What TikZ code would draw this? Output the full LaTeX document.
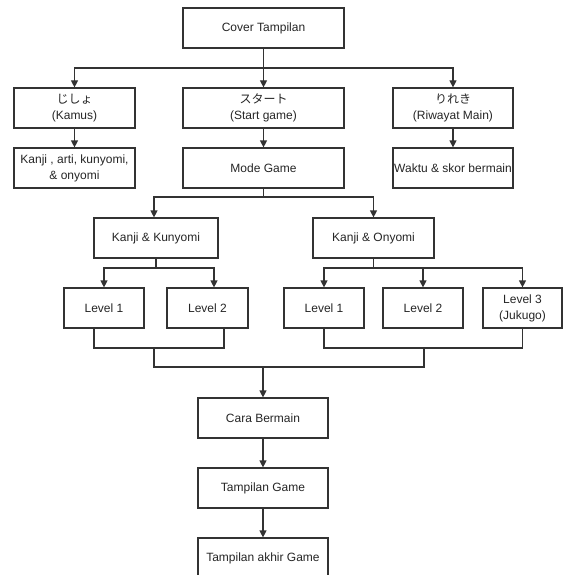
\documentclass[tikz,border=0pt]{standalone}
\usepackage{fontspec}
\setmainfont{Liberation Sans}
\newfontfamily\jpfont{Noto Sans CJK JP}
\usetikzlibrary{arrows.meta}
\begin{document}
\begin{tikzpicture}[x=1pt,y=-1pt,
  box/.style={draw=black!80, line width=1.2pt, fill=white, inner sep=0pt, align=center,
    minimum height=40pt, text=black!85, font=\fontsize{12}{16}\selectfont},
  conn/.style={draw=black!80, line width=1.2pt},
  arr/.style={conn, -{Triangle[length=7pt,width=7pt]}}]
\useasboundingbox (0,0) rectangle (563,575);
\fill[white] (0,0) rectangle (563,575);

% nodes
\node[box, minimum width=161pt] (cover) at (263.5,28) {Cover Tampilan};
\node[box, minimum width=121pt] (jisho) at (74.5,108) {{\jpfont じしょ}\\(Kamus)};
\node[box, minimum width=161pt] (start) at (263.5,108) {{\jpfont スタート}\\(Start game)};
\node[box, minimum width=120pt] (rireki) at (453,108) {{\jpfont りれき}\\(Riwayat Main)};
\node[box, minimum width=121pt] (kanji) at (74.5,168) {Kanji , arti, kunyomi,\\\& onyomi};
\node[box, minimum width=161pt] (mode) at (263.5,168) {Mode Game};
\node[box, minimum width=120pt] (waktu) at (453,168) {Waktu \& skor bermain};
\node[box, minimum width=124pt] (kun) at (156,238) {Kanji \& Kunyomi};
\node[box, minimum width=121pt] (on) at (373.5,238) {Kanji \& Onyomi};
\node[box, minimum width=80pt] (l1a) at (104,308) {Level 1};
\node[box, minimum width=81pt] (l2a) at (207.5,308) {Level 2};
\node[box, minimum width=80pt] (l1b) at (324,308) {Level 1};
\node[box, minimum width=80pt] (l2b) at (423,308) {Level 2};
\node[box, minimum width=79pt] (l3b) at (522.5,308) {Level 3\\(Jukugo)};
\node[box, minimum width=130pt] (cara) at (263,418) {Cara Bermain};
\node[box, minimum width=130pt] (tgame) at (263,488) {Tampilan Game};
\node[box, minimum width=130pt] (takhir) at (263,558) {Tampilan akhir Game};

% bus coordinates
\coordinate (b1) at (263.5,68);
\coordinate (b2) at (263.5,197);
\coordinate (b3) at (156,268);
\coordinate (b4) at (373.5,268);
\coordinate (jA) at (154,348);
\coordinate (jB) at (424,348);
\coordinate (jC) at (263,367);

% connectors
\draw[conn] (cover.south) -- (b1);
\draw[arr] (b1) -| (jisho.north);
\draw[arr] (b1) -- (start.north);
\draw[arr] (b1) -| (rireki.north);
\draw[arr] (jisho) -- (kanji);
\draw[arr] (start) -- (mode);
\draw[arr] (rireki) -- (waktu);

\draw[conn] (mode.south) -- (b2);
\draw[arr] (b2) -| ([xshift=-2pt]kun.north);
\draw[arr] (b2) -| (on.north);

\draw[conn] (kun.south) -- (b3);
\draw[arr] (b3) -| (l1a.north);
\draw[arr] (b3) -| ([xshift=6.5pt]l2a.north);

\draw[conn] (on.south) -- (b4);
\draw[arr] (b4) -| (l1b.north);
\draw[arr] (b4) -| (l2b.north);
\draw[arr] (b4) -| (l3b.north);

\draw[conn] ([xshift=-10pt]l1a.south) |- (jA) -| ([xshift=16.5pt]l2a.south);
\draw[conn] (l1b.south) |- (jB) -| (l3b.south);
\draw[conn] (jA) |- (jC);
\draw[conn] (jB) |- (jC);
\draw[arr] (jC) -- (cara.north);
\draw[arr] (cara) -- (tgame);
\draw[arr] (tgame) -- (takhir);
\end{tikzpicture}
\end{document}
